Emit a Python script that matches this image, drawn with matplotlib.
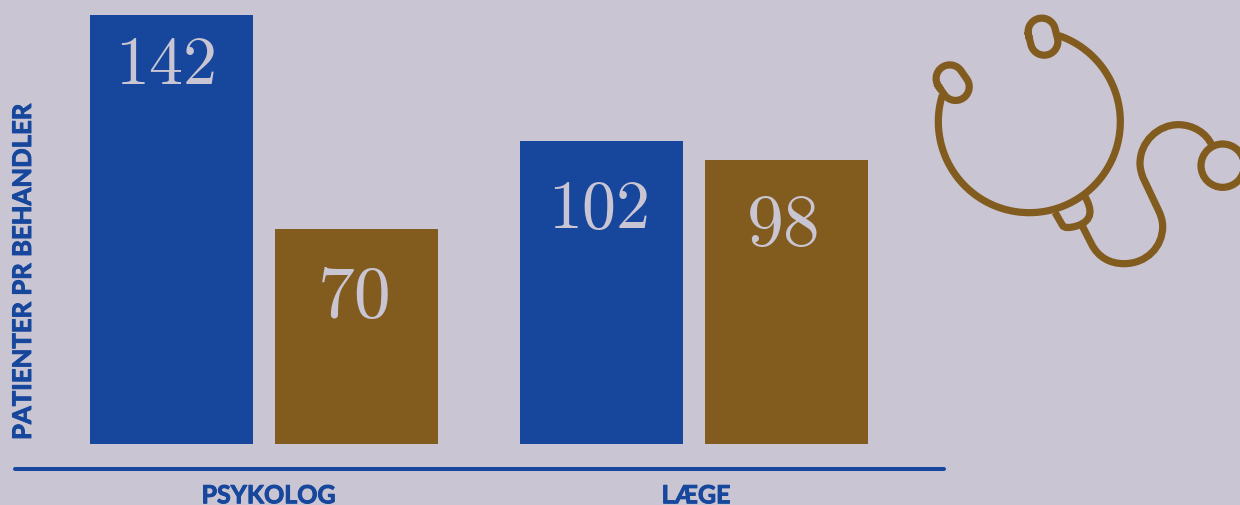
import numpy as np
import matplotlib
matplotlib.use("Agg")
import matplotlib.pyplot as plt
import matplotlib.patheffects as pe
from matplotlib.path import Path
from matplotlib.patches import PathPatch, Circle
from matplotlib.transforms import Affine2D

groups = ["PSYKOLOG", "LÆGE"]
labels_blue = ["142", "102"]
labels_brown = ["70", "98"]
# bar heights as drawn in the picture, they are not exactly proportional to the printed numbers
heights_blue = [142, 100.3]
heights_brown = [71.2, 94]
ylabel = "PATIENTER PR BEHANDLER"

BG = "#C9C5D3"
BLUE = "#17479C"
BROWN = "#825B1E"
W, H = 1240, 505

fig = plt.figure(figsize=(W / 100, H / 100), dpi=100, facecolor=BG)
ax = fig.add_axes([14.5 / W, (H - 469) / H, (943.5 - 14.5) / W, 469 / H])
ax.set_facecolor("none")

x = np.arange(len(groups))
width = 163 / 430
offset = 92.5 / 430
bars1 = ax.bar(x - offset, heights_blue, width, color=BLUE)
bars2 = ax.bar(x + offset, heights_brown, width, color=BROWN)

ax.set_xlim(-249.5 / 430, 1 + 249.5 / 430)
scale = 429 / 142
ax.set_ylim(-25 / scale, 444 / scale)

for s in ["top", "left", "right"]:
    ax.spines[s].set_visible(False)
ax.spines["bottom"].set_color(BLUE)
ax.spines["bottom"].set_linewidth(2.9)
ax.spines["bottom"].set_capstyle("round")

# the font here is lighter than the original, a thin outline makes up for it
heavy = [pe.withStroke(linewidth=0.7, foreground=BLUE)]

ax.set_yticks([])
ax.set_xticks(x + np.array([4.5, 2]) / 430)
ax.set_xticklabels(groups, family="Lato", weight="bold", fontsize=18, color=BLUE, path_effects=heavy)
ax.tick_params(axis="x", length=0, pad=11)

fig.text(23 / W, (H - 440) / H, ylabel, rotation=90, ha="center", va="bottom",
         family="Lato", weight="bold", fontsize=18.5, color=BLUE, path_effects=heavy)

# value labels sit inside the bars
for bars, labels, drops, shifts, size in [(bars1, labels_blue, [37, 50], [-4, -2], 49),
                                          (bars2, labels_brown, [50, 48], [-1, -2], 53)]:
    for b, lab, d, sh in zip(bars, labels, drops, shifts):
        ax.annotate(lab, (b.get_x() + b.get_width() / 2, b.get_height()),
                    xytext=(sh, -d), textcoords="offset points", ha="center", va="center",
                    family="cmr10", fontsize=size, color=BG)

# stethoscope icon, drawn in a small axes of its own
icon = fig.add_axes([920 / W, (H - 280) / H, 320 / W, 280 / H])
icon.set_xlim(0, 960)
icon.set_ylim(840, 0)
icon.axis("off")
lw = 5.2

t = np.radians(np.linspace(-71, 197, 200))
icon.plot(328 + 273 * np.cos(t), 365 + 273 * np.sin(t), color=BROWN, lw=lw, solid_capstyle="butt")

# ear tips are stadium shapes
a = np.radians(np.linspace(180, 360, 40))
sx = np.r_[41 * np.cos(a), -41 * np.cos(a), -41]
sy = np.r_[41 * np.sin(a) - 15, -41 * np.sin(a) + 15, -15]
for cx, cy, ang in [(369, 110, -14), (98, 248, -35)]:
    tr = Affine2D().rotate_deg(ang).translate(cx, cy) + icon.transData
    icon.plot(sx, sy, color=BROWN, lw=lw, transform=tr)

chest = Path([(405, 637), (428, 677), (436, 688), (470, 678), (522, 662), (515, 625), (495, 590)],
             [Path.MOVETO, Path.LINETO, Path.CURVE3, Path.CURVE3, Path.CURVE4, Path.CURVE4, Path.CURVE4])
icon.add_patch(PathPatch(chest, fc="none", ec=BROWN, lw=lw))

tube = Path([(488, 680), (515, 733),
             (535, 772), (570, 791), (612, 791),
             (680, 791), (728, 740), (728, 680),
             (728, 660), (722, 645), (715, 630),
             (670, 535),
             (664, 520), (660, 505), (660, 490),
             (660, 425), (715, 374), (775, 374),
             (820, 374), (860, 400), (875, 435)],
            [Path.MOVETO, Path.LINETO] + [Path.CURVE4] * 9 + [Path.LINETO] + [Path.CURVE4] * 9)
icon.add_patch(PathPatch(tube, fc="none", ec=BROWN, lw=lw))

icon.add_patch(Circle((908, 497), 65, fc="none", ec=BROWN, lw=lw))

fig.savefig("out.png", dpi=100, facecolor=BG)
